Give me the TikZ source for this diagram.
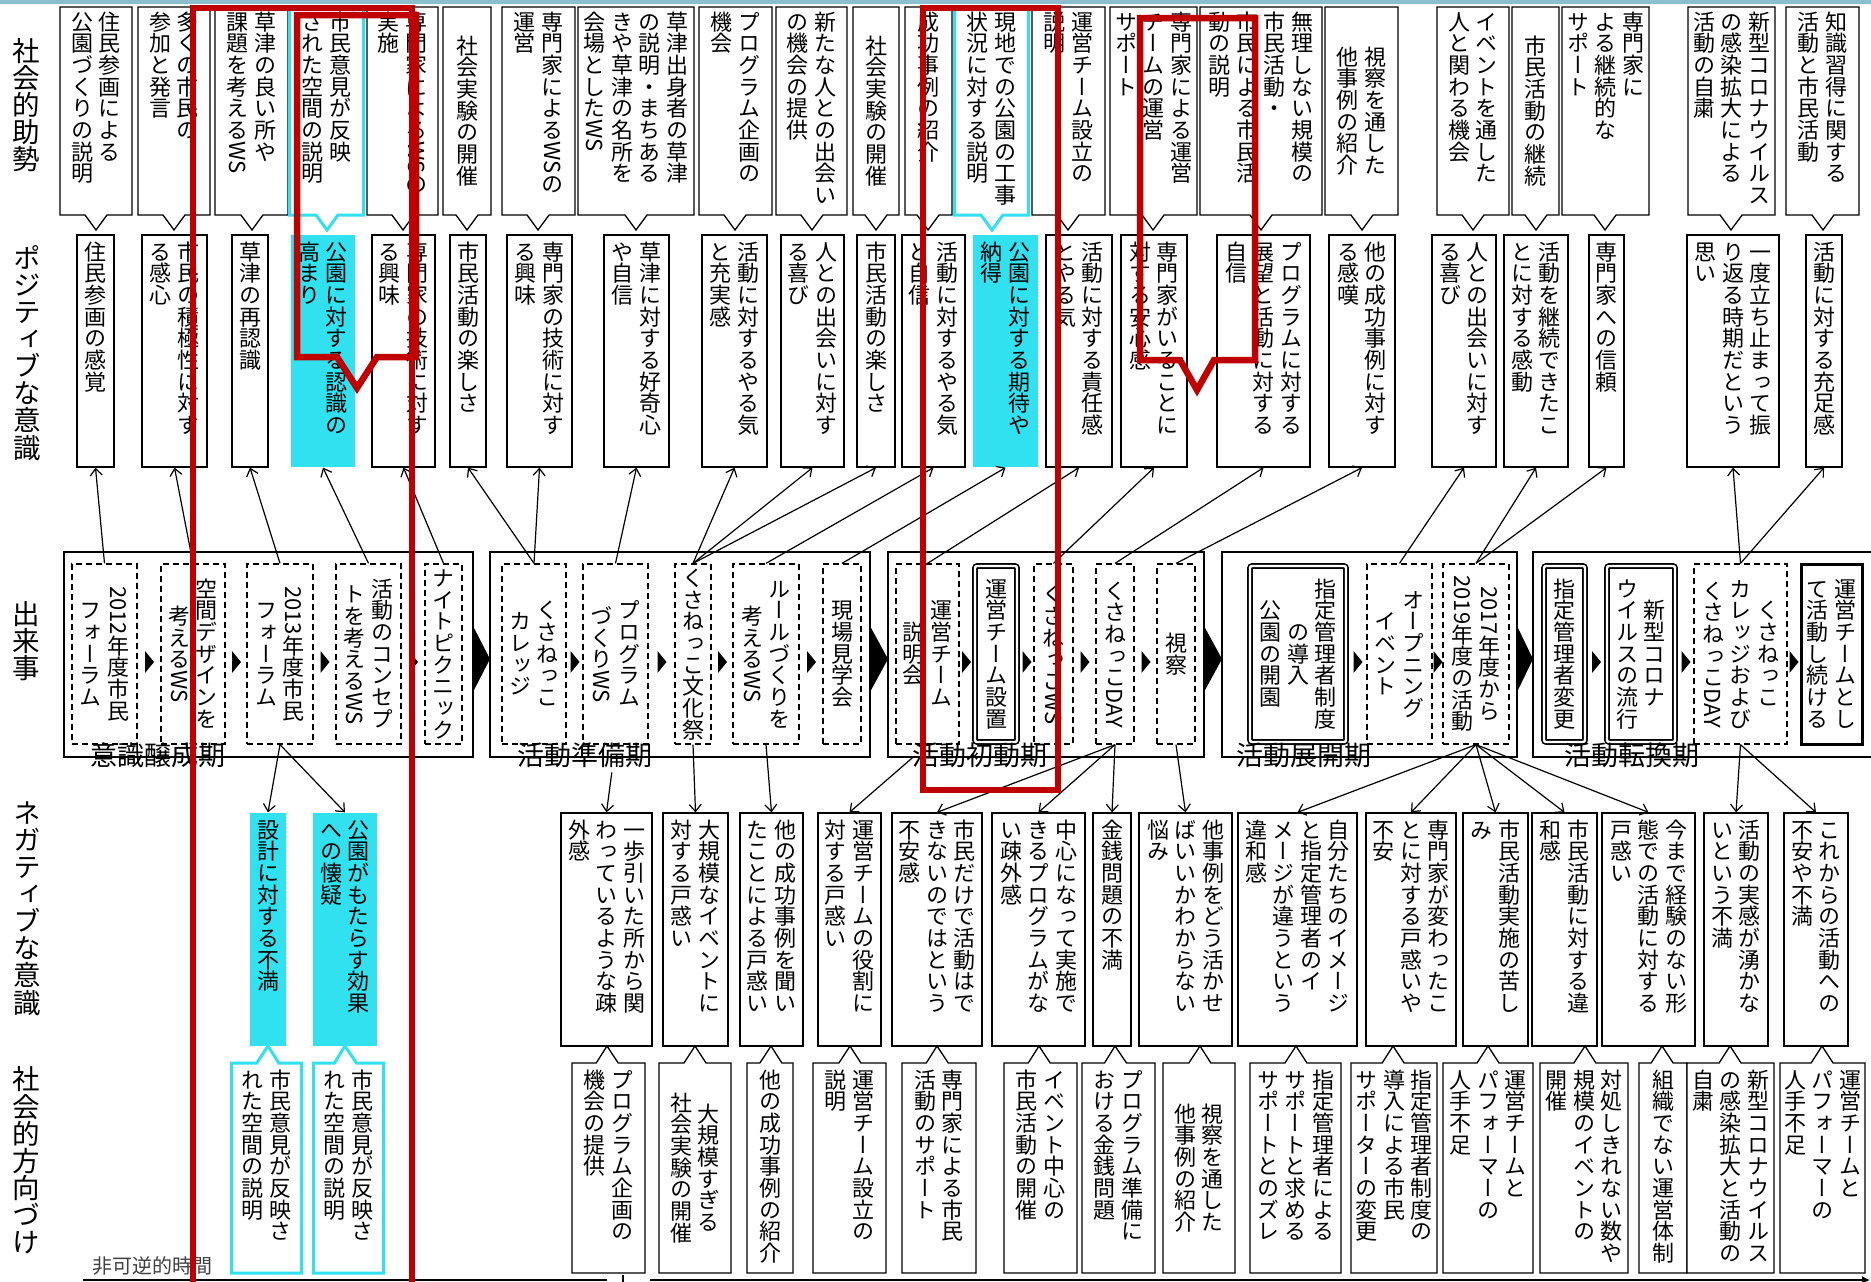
\documentclass[tikz,border=0pt]{standalone}
\usepackage{fontspec}
\usepackage{graphicx}
\setmainfont{Noto Sans CJK JP}
\newfontfamily\tatefont{Noto Sans CJK JP}[RawFeature=+vert]
\usetikzlibrary{shapes.callouts,arrows.meta}

\definecolor{rouge}{RGB}{192,0,0}
\definecolor{cyanvif}{RGB}{50,225,240}
\definecolor{bandeau}{RGB}{140,190,205}

\newcommand\boxfont{\tatefont\fontsize{22pt}{22pt}\selectfont}
\newcommand\yk[1]{\raisebox{0.865em}{\rotatebox{-90}{#1}}}
\def\tateH{200pt}

\ExplSyntaxOn
\bool_new:N \l_tate_first_bool
\seq_new:N \l_tate_seq
\cs_new_protected:Npn \tate_col:nnn #1#2#3
  {
    \vbox_to_ht:nn {#1}
      {
        \baselineskip=0pt \lineskip=0pt \lineskiplimit=0pt
        #2
        \tl_map_inline:nn {#3}
          { \hbox_to_wd:nn {1em} { \hss ##1 \hss \rule[-0.12em]{0pt}{0.985em} } }
        \vss
      }
  }
\cs_new_protected:Npn \tate_box:nn #1#2
  {
    \seq_set_split:Nnn \l_tate_seq {/} {#2}
    \seq_reverse:N \l_tate_seq
    \hbox:n
      {
        \bool_set_true:N \l_tate_first_bool
        \seq_map_inline:Nn \l_tate_seq
          {
            \bool_if:NF \l_tate_first_bool { \kern0.25em }
            \bool_set_false:N \l_tate_first_bool
            \tate_col:nnn {\tateH} {#1} {##1}
          }
      }
  }
\NewDocumentCommand \tate { m } { \tate_box:nn {} {#1} }
\NewDocumentCommand \tatem { m } { \tate_box:nn {\vss} {#1} }
\ExplSyntaxOff

\tikzset{
trait/.style={line width=1.3pt},
fl/.style={line width=1.2pt, -{Straight Barb[length=7pt,width=12pt]}},
sbox/.style={rectangle callout, draw, trait, fill=white, inner xsep=0pt, inner ysep=4pt, minimum height=208pt, callout pointer width=22pt, callout absolute pointer={(#1,230)}, font=\boxfont, execute at begin node={\def\tateH{200pt}}},
bbox/.style={rectangle callout, draw, trait, fill=white, inner xsep=0pt, inner ysep=6pt, minimum height=210pt, callout pointer width=22pt, callout absolute pointer={(#1,1046)}, font=\boxfont, execute at begin node={\def\tateH{198pt}}},
pbox/.style={rectangle, draw, trait, inner xsep=0pt, inner ysep=6pt, minimum height=232pt, font=\boxfont, execute at begin node={\def\tateH{220pt}}},
nbox/.style={rectangle, draw, trait, inner xsep=0pt, inner ysep=6pt, minimum height=233pt, font=\boxfont, execute at begin node={\def\tateH{221pt}}},
ebox/.style={rectangle, draw, trait, dash pattern=on 6pt off 4pt, fill=white, inner xsep=0pt, inner ysep=3pt, minimum height=180pt, font=\boxfont, execute at begin node={\def\tateH{174pt}}},
ebox2/.style={ebox, solid, double, line width=1.6pt, double distance=2.4pt, rounded corners=2pt, inner ysep=1pt, minimum height=176pt},
ebox3/.style={ebox, solid, line width=3pt},
hlfill/.style={fill=cyanvif, draw=none},
hlbord/.style={draw=cyanvif, line width=3pt},
rowlab/.style={inner sep=0pt, font=\tatefont\fontsize{27.5pt}{27.5pt}\selectfont, execute at begin node={\def\tateH{240pt}}},
plabel/.style={inner sep=0pt, font=\fontsize{27pt}{27pt}\selectfont},
rouge trait/.style={draw=rouge, line width=6.5pt}
}

\begin{document}
\begin{tikzpicture}[x=1pt, y=-1pt]

% Cadre
\useasboundingbox (0,0) rectangle (1871,1282);
\clip (0,0) rectangle (1871,1282);
\fill[white] (0,0) rectangle (1871,1282);
\fill[bandeau] (0,0) rectangle (1871,3.5);

% Etiquettes
\node[rowlab] (L1) at (26,105)
{\tatem{社会的助勢}};
\node[rowlab] (L2) at (27,353)
{\tatem{ポジティブな意識}};
\node[rowlab] (L3) at (26,641)
{\tatem{出来事}};
\node[rowlab] (L4) at (27,908)
{\tatem{ネガティブな意識}};
\node[rowlab] (L5) at (26,1161)
{\tatem{社会的方向づけ}};

% Periodes
\draw[trait] (64,552) rectangle (473,757);
\draw[trait] (490,552) rectangle (870,757);
\draw[trait] (888,552) rectangle (1204,757);
\draw[trait] (1222,552) rectangle (1517,757);
\draw[trait] (1533,552) rectangle (1890,757);

\foreach \a/\b in {473/490,870/888,1204/1222,1517/1533}
{
\fill (\a,626) -- (\b,659) -- (\a,692) -- cycle;
}

\foreach \x in {149,236,324.5,413,574.5,661.5,722,811,966,1026.5,1084.5,1145.5,1357.5,1437.5,1596,1685.5,1793.5}
{
\fill (\x-4,651) -- (\x+5,662) -- (\x-4,673) -- cycle;
}

% Evenements
\node[ebox, minimum width=65pt] (E1) at (104.5,654)
{\tatem{{\yk{2012}}年度市民/フォーラム}};
\node[ebox, minimum width=64pt] (E2) at (193,654)
{\tatem{空間デザインを/考える{\yk{WS}}}};
\node[ebox, minimum width=66pt] (E3) at (280,654)
{\tatem{{\yk{2013}}年度市民/フォーラム}};
\node[ebox, minimum width=65pt] (E4) at (368.5,654)
{\tatem{活動のコンセプ/トを考える{\yk{WS}}}};
\node[ebox, minimum width=37pt] (E5) at (443.5,654)
{\tatem{ナイトピクニック}};
\node[ebox, minimum width=64pt] (E6) at (534,654)
{\tatem{くさねっこ/カレッジ}};
\node[ebox, minimum width=65pt] (E7) at (615.5,654)
{\tatem{プログラム/づくり{\yk{WS}}}};
\node[ebox, minimum width=36pt] (E8) at (693,654)
{\tatem{くさねっこ文化祭}};
\node[ebox, minimum width=66pt] (E9) at (766,654)
{\tatem{ルールづくりを/考える{\yk{WS}}}};
\node[ebox, minimum width=38pt] (E10) at (842,654)
{\tatem{現場見学会}};
\node[ebox, minimum width=63pt] (E11) at (927.5,654)
{\tatem{運営チーム/説明会}};
\node[ebox2, minimum width=42pt] (E12) at (996,654)
{\tatem{運営チーム設置}};
\node[ebox, minimum width=39pt] (E13) at (1053.5,654)
{\tatem{くさねっこ{\yk{WS}}}};
\node[ebox, minimum width=38pt] (E14) at (1115,654)
{\tatem{くさねっこ{\yk{DAY}}}};
\node[ebox, minimum width=38pt] (E15) at (1176,654)
{\tatem{視察}};
\node[ebox2, minimum width=96pt] (E16) at (1298,654)
{\tatem{指定管理者制度/の導入/公園の開園}};
\node[ebox, minimum width=65pt] (E17) at (1399.5,654)
{\tatem{オープニング/イベント}};
\node[ebox, minimum width=66pt] (E18) at (1476,654)
{\tatem{{\yk{2017}}年度から/{\yk{2019}}年度の活動}};
\node[ebox2, minimum width=41pt] (E19) at (1564.5,654)
{\tatem{指定管理者変更}};
\node[ebox2, minimum width=68pt] (E20) at (1641,654)
{\tatem{新型コロナ/ウイルスの流行}};
\node[ebox, minimum width=93pt] (E21) at (1740.5,654)
{\tatem{くさねっこ/カレッジおよび/くさねっこ{\yk{DAY}}}};
\node[ebox3, minimum width=61pt] (E22) at (1831.5,654)
{\tatem{運営チームとし/て活動し続ける}};

\node[plabel] (lab1) at (158,755)
{意識醸成期};
\node[plabel] (lab2) at (585,755)
{活動準備期};
\node[plabel] (lab3) at (980,755)
{活動初動期};
\node[plabel] (lab4) at (1304,755)
{活動展開期};
\node[plabel] (lab5) at (1632,755)
{活動転換期};

% Ancrages positifs
\node[pbox, minimum width=37pt] (P1) at (95.5,351)
{\tate{住民参画の感覚}};
\node[pbox, minimum width=65pt] (P2) at (174.5,351)
{\tate{市民の積極性に対す/る感心}};
\node[pbox, minimum width=36pt] (P3) at (250,351)
{\tate{草津の再認識}};
\node[pbox, hlfill, minimum width=64pt] (P4) at (323,351)
{\tate{公園に対する認識の/高まり}};
\node[pbox, minimum width=63pt] (P5) at (403.5,351)
{\tate{専門家の技術に対す/る興味}};
\node[pbox, minimum width=36pt] (P6) at (468,351)
{\tate{市民活動の楽しさ}};
\node[pbox, minimum width=65pt] (P7) at (539.5,351)
{\tate{専門家の技術に対す/る興味}};
\node[pbox, minimum width=65pt] (P8) at (636.5,351)
{\tate{草津に対する好奇心/や自信}};
\node[pbox, minimum width=65pt] (P9) at (734.5,351)
{\tate{活動に対するやる気/と充実感}};
\node[pbox, minimum width=63pt] (P10) at (812.5,351)
{\tate{人との出会いに対す/る喜び}};
\node[pbox, minimum width=38pt] (P11) at (876,351)
{\tate{市民活動の楽しさ}};
\node[pbox, minimum width=63pt] (P12) at (933.5,351)
{\tate{活動に対するやる気/と自信}};
\node[pbox, hlfill, minimum width=65pt] (P13) at (1005.5,351)
{\tate{公園に対する期待や/納得}};
\node[pbox, minimum width=66pt] (P14) at (1079,351)
{\tate{活動に対する責任感/とやる気}};
\node[pbox, minimum width=66pt] (P15) at (1154,351)
{\tate{専門家がいることに/対する安心感}};
\node[pbox, minimum width=93pt] (P16) at (1263.5,351)
{\tate{プログラムに対する/展望と活動に対する/自信}};
\node[pbox, minimum width=66pt] (P17) at (1362,351)
{\tate{他の成功事例に対す/る感嘆}};
\node[pbox, minimum width=64pt] (P18) at (1464,351)
{\tate{人との出会いに対す/る喜び}};
\node[pbox, minimum width=64pt] (P19) at (1536,351)
{\tate{活動を継続できたこ/とに対する感動}};
\node[pbox, minimum width=35pt] (P20) at (1606.5,351)
{\tate{専門家への信頼}};
\node[pbox, minimum width=92pt] (P21) at (1733,351)
{\tate{一度立ち止まって振/り返る時期だという/思い}};
\node[pbox, minimum width=36pt] (P22) at (1824,351)
{\tate{活動に対する充足感}};

% Soutiens
\node[sbox=96, minimum width=72pt] (S1) at (96,111)
{\tate{住民参画による/公園づくりの説明}};
\node[sbox=174, minimum width=72pt] (S2) at (174,111)
{\tate{多くの市民の/参加と発言}};
\node[sbox=252, minimum width=73pt] (S3) at (251.5,111)
{\tate{草津の良い所や/課題を考える{\yk{WS}}}};
\node[sbox=327, hlbord, minimum width=74pt] (S4) at (326.5,111)
{\tate{市民意見が反映/された空間の説明}};
\node[sbox=403, minimum width=71pt] (S5) at (402.5,111)
{\tate{専門家による{\yk{WS}}の/実施}};
\node[sbox=467, minimum width=48pt] (S6) at (467,111)
{\tatem{社会実験の開催}};
\node[sbox=538, minimum width=73pt] (S7) at (538.5,111)
{\tate{専門家による{\yk{WS}}の/運営}};
\node[sbox=636, minimum width=116pt] (S8) at (636,111)
{\tate{草津出身者の草津/の説明・まちある/きや草津の名所を/会場とした{\yk{WS}}}};
\node[sbox=735, minimum width=73pt] (S9) at (735.5,111)
{\tate{プログラム企画の/機会}};
\node[sbox=812, minimum width=71pt] (S10) at (811.5,111)
{\tate{新たな人との出会い/の機会の提供}};
\node[sbox=876, minimum width=46pt] (S11) at (876,111)
{\tatem{社会実験の開催}};
\node[sbox=928, minimum width=47pt] (S12) at (928.5,111)
{\tate{成功事例の紹介}};
\node[sbox=992, hlbord, minimum width=74pt] (S13) at (991.5,111)
{\tate{現地での公園の工事/状況に対する説明}};
\node[sbox=1068, minimum width=73pt] (S14) at (1068.5,111)
{\tate{運営チーム設立の/説明}};
\node[sbox=1153, minimum width=87pt] (S15) at (1153.5,111)
{\tate{専門家による運営/チームの運営/サポート}};
\node[sbox=1261, minimum width=122pt] (S16) at (1261,111)
{\tate{無理しない規模の/市民活動・/市民による市民活/動の説明}};
\node[sbox=1362, minimum width=73pt] (S17) at (1361.5,111)
{\tatem{視察を通した/他事例の紹介}};
\node[sbox=1473, minimum width=72pt] (S18) at (1473,111)
{\tate{イベントを通した/人と関わる機会}};
\node[sbox=1536, minimum width=47pt] (S19) at (1535.5,111)
{\tatem{市民活動の継続}};
\node[sbox=1605, minimum width=87pt] (S20) at (1605.5,111)
{\tate{専門家に/よる継続的な/サポート}};
\node[sbox=1731, minimum width=87pt] (S21) at (1731.5,111)
{\tate{新型コロナウイルス/の感染拡大による/活動の自粛}};
\node[sbox=1823, minimum width=73pt] (S22) at (1822.5,111)
{\tate{知識習得に関する/活動と市民活動}};

% Ancrages negatifs
\node[nbox, hlfill, minimum width=36pt] (N1) at (268,929.5)
{\tate{設計に対する不満}};
\node[nbox, hlfill, minimum width=64pt] (N2) at (345,929.5)
{\tate{公園がもたらす効果/への懐疑}};
\node[nbox, minimum width=91pt] (N3) at (606.5,929.5)
{\tate{一歩引いた所から関/わっているような疎/外感}};
\node[nbox, minimum width=65pt] (N4) at (695.5,929.5)
{\tate{大規模なイベントに/対する戸惑い}};
\node[nbox, minimum width=63pt] (N5) at (771.5,929.5)
{\tate{他の成功事例を聞い/たことによる戸惑い}};
\node[nbox, minimum width=63pt] (N6) at (849.5,929.5)
{\tate{運営チームの役割に/対する戸惑い}};
\node[nbox, minimum width=90pt] (N7) at (937,929.5)
{\tate{市民だけで活動はで/きないのではという/不安感}};
\node[nbox, minimum width=93pt] (N8) at (1038.5,929.5)
{\tate{中心になって実施で/きるプログラムがな/い疎外感}};
\node[nbox, minimum width=38pt] (N9) at (1112,929.5)
{\tate{金銭問題の不満}};
\node[nbox, minimum width=93pt] (N10) at (1185.5,929.5)
{\tate{他事例をどう活かせ/ばいいかわからない/悩み}};
\node[nbox, minimum width=119pt] (N11) at (1297.5,929.5)
{\tate{自分たちのイメージ/と指定管理者のイ/メージが違うという/違和感}};
\node[nbox, minimum width=90pt] (N12) at (1411,929.5)
{\tate{専門家が変わったこ/とに対する戸惑いや/不安}};
\node[nbox, minimum width=65pt] (N13) at (1495.5,929.5)
{\tate{市民活動実施の苦し/み}};
\node[nbox, minimum width=65pt] (N14) at (1564.5,929.5)
{\tate{市民活動に対する違/和感}};
\node[nbox, minimum width=93pt] (N15) at (1648.5,929.5)
{\tate{今まで経験のない形/態での活動に対する/戸惑い}};
\node[nbox, minimum width=64pt] (N16) at (1736,929.5)
{\tate{活動の実感が湧かな/いという不満}};
\node[nbox, minimum width=64pt] (N17) at (1816,929.5)
{\tate{これからの活動への/不安や不満}};

% Orientations
\node[bbox=268, hlbord, minimum width=70pt] (B1) at (266.5,1168)
{\tate{市民意見が反映さ/れた空間の説明}};
\node[bbox=345, hlbord, minimum width=70pt] (B2) at (348.5,1168)
{\tate{市民意見が反映さ/れた空間の説明}};
\node[bbox=607, minimum width=73pt] (B3) at (608.5,1168)
{\tate{プログラム企画の/機会の提供}};
\node[bbox=695, minimum width=72pt] (B4) at (695,1168)
{\tatem{大規模すぎる/社会実験の開催}};
\node[bbox=771, minimum width=46pt] (B5) at (770,1168)
{\tate{他の成功事例の紹介}};
\node[bbox=850, minimum width=73pt] (B6) at (849.5,1168)
{\tate{運営チーム設立の/説明}};
\node[bbox=937, minimum width=74pt] (B7) at (939,1168)
{\tate{専門家による市民/活動のサポート}};
\node[bbox=1039, minimum width=73pt] (B8) at (1040.5,1168)
{\tate{イベント中心の/市民活動の開催}};
\node[bbox=1115, minimum width=73pt] (B9) at (1118.5,1168)
{\tate{プログラム準備に/おける金銭問題}};
\node[bbox=1200, minimum width=72pt] (B10) at (1199,1168)
{\tatem{視察を通した/他事例の紹介}};
\node[bbox=1296, minimum width=91pt] (B11) at (1295.5,1168)
{\tate{指定管理者による/サポートと求める/サポートとのズレ}};
\node[bbox=1393, minimum width=86pt] (B12) at (1394,1168)
{\tate{指定管理者制度の/導入による市民/サポーターの変更}};
\node[bbox=1488, minimum width=90pt] (B13) at (1488,1168)
{\tate{運営チームと/パフォーマーの/人手不足}};
\node[bbox=1585, minimum width=88pt] (B14) at (1584,1168)
{\tate{対処しきれない数や/規模のイベントの/開催}};
\node[bbox=1662, minimum width=48pt] (B15) at (1663,1168)
{\tate{組織でない運営体制}};
\node[bbox=1730, minimum width=87pt] (B16) at (1730.5,1168)
{\tate{新型コロナウイルス/の感染拡大と活動の/自粛}};
\node[bbox=1822, minimum width=85pt] (B17) at (1822.5,1168)
{\tate{運営チームと/パフォーマーの/人手不足}};

% Fleches vers le haut
\draw[fl] (E1.north) -- (P1.south);
\draw[fl] (E2.north) -- (P2.south);
\draw[fl] (E3.north) -- (P3.south);
\draw[fl] (E4.north) -- (P4.south);
\draw[fl] (E5.north) -- (P5.south);
\draw[fl] (E6.north) -- (P6.south);
\draw[fl] (E6.north) -- (P7.south);
\draw[fl] (E7.north) -- (P8.south);
\draw[fl] (E8.north) -- (P9.south);
\draw[fl] (E8.north) -- (P10.south);
\draw[fl] (E8.north) -- (P11.south);
\draw[fl] (E9.north) -- (P12.south);
\draw[fl] (E10.north) -- (P13.south);
\draw[fl] (E11.north) -- (P14.south);
\draw[fl] (E13.north) -- (P15.south);
\draw[fl] (E14.north) -- (P16.south);
\draw[fl] (E15.north) -- (P17.south);
\draw[fl] (E17.north) -- (P18.south);
\draw[fl] (E18.north) -- (P19.south);
\draw[fl] (E18.north) -- (P20.south);
\draw[fl] (E21.north) -- (P21.south);
\draw[fl] (E21.north) -- (P22.south);

% Fleches vers le bas
\draw[fl] (E3.south) -- (N1.north);
\draw[fl] (E3.south) -- (N2.north);
\draw[fl, shorten <=28pt] (E7.south) -- (N3.north);
\draw[fl] (E8.south) -- (N4.north);
\draw[fl] (E9.south) -- (N5.north);
\draw[fl, shorten <=20pt] (E11.south) -- (N6.north);
\draw[fl] (E14.south) -- (N7.north);
\draw[fl] (E14.south) -- (N8.north);
\draw[fl] (E14.south) -- (N9.north);
\draw[fl] (E15.south) -- (N10.north);
\draw[fl] (E18.south) -- (N11.north);
\draw[fl] (E18.south) -- (N12.north);
\draw[fl] (E18.south) -- (N13.north);
\draw[fl] (E18.south) -- (N14.north);
\draw[fl] (E18.south) -- (N15.north);
\draw[fl] (E21.south) -- (N16.north);
\draw[fl] (E21.south) -- (N17.north);

% Temps
\node[inner sep=0pt, text=black!75, font=\fontsize{20pt}{20pt}\selectfont] (T) at (152,1266)
{非可逆的時間};
\draw[trait] (83,1280) -- (607,1280);
\draw[trait] (623,1275) -- (623,1282);
\draw[trait, -{Latex[length=8pt,width=8pt]}] (650,1280) -- (1870,1280);

% Cadres rouges
\draw[rouge trait] (193,1300) -- (193,8) -- (412,8) -- (412,1300);
\draw[rouge trait] (297,15) -- (416,15) -- (416,357) -- (377,357) -- (357,388) -- (337,357) -- (297,357) -- cycle;
\draw[rouge trait] (923,8) rectangle (1058,790);
\draw[rouge trait] (1140,18) -- (1255,18) -- (1255,360) -- (1214,360) -- (1197,390) -- (1180,360) -- (1140,360) -- cycle;

\end{tikzpicture}
\end{document}
